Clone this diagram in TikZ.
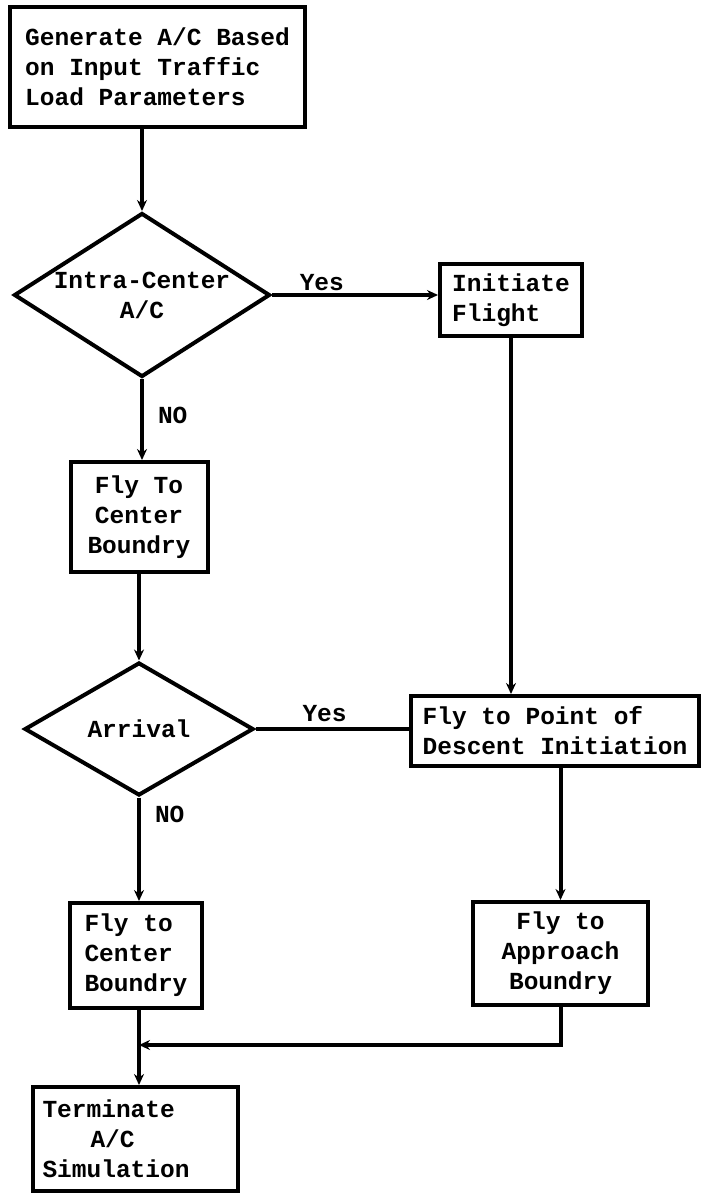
\documentclass[tikz,border=0pt]{standalone}
\usepackage{fontspec}
\setmainfont{Liberation Mono}
\usetikzlibrary{shapes.geometric,arrows.meta}

\begin{document}
\begin{tikzpicture}
    [x=1pt,y=-1pt,
    line width=4pt,
    >={Stealth[length=11pt,width=10pt]},
    font=\bfseries\fontsize{24.5}{30}\selectfont,
    box/.style={draw,rectangle,inner sep=0pt},
    dec/.style={draw,diamond,inner sep=0pt,aspect=1.58,align=center},
    lbl/.style={inner sep=2pt}]
    \useasboundingbox (0,0) rectangle (701,1193);
    \node[box,minimum width=295pt,minimum height=120pt,align=left] (gen) at (157.5,67)
        {Generate A/C Based\\on Input Traffic\\Load Parameters};
    \node[dec,minimum width=256pt,minimum height=164pt] (dia1) at (142,295) {Intra-Center\\A/C};
    \node[box,minimum width=142pt,minimum height=72pt,align=left] (initf) at (511,300) {Initiate\\Flight};
    \node[box,minimum width=137pt,minimum height=110pt,align=center] (fly1) at (139,517) {Fly To\\Center\\Boundry};
    \node[dec,minimum width=229pt,minimum height=133pt] (dia2) at (139,729) {Arrival};
    \node[box,minimum width=288pt,minimum height=70pt,align=left] (fpd) at (555,731)
        {Fly to Point of\\Descent Initiation};
    \node[box,minimum width=132pt,minimum height=105pt,align=left] (fly2) at (136,955.5) {Fly to\\Center\\Boundry};
    \node[box,minimum width=175pt,minimum height=103pt,align=center] (appr) at (560.5,953.5) {Fly to\\Approach\\Boundry};
    \node[box,text width=185pt,inner xsep=10pt,minimum height=104pt,align=left] (term) at (135,1139)
        {Terminate\\\hspace*{48pt}A/C\\Simulation};
    \coordinate (join) at (139,1045);

    \draw[->] (gen.south -| dia1.north) -- (dia1.north);
    \draw[->] (dia1.east) -- (dia1.east -| initf.west)
        node[lbl,pos=0.3,above] (yes1) {Yes};
    \draw[->] (dia1.south) -- (dia1.south |- fly1.north)
        node[lbl,pos=0.45,right,inner xsep=14pt] (no1) {NO};
    \draw[->] (fly1.south) -- (dia2.north);
    \draw[->] (initf.south) -- (initf.south |- fpd.north);
    \draw (dia2.east) -- (dia2.east -| fpd.west)
        node[lbl,pos=0.45,above,inner ysep=5pt] (yes2) {Yes};
    \draw[->] (dia2.south) -- (dia2.south |- fly2.north)
        node[lbl,pos=0.16,right,inner xsep=14pt] (no2) {NO};
    \draw[->] (fpd.south -| appr.north) -- (appr.north);
    \draw[->] (fly2.south -| join) -- (term.north -| join);
    \draw[->] (appr.south) |- (join);
    % \draw (fly2.south) -- (join);
\end{tikzpicture}
\end{document}
